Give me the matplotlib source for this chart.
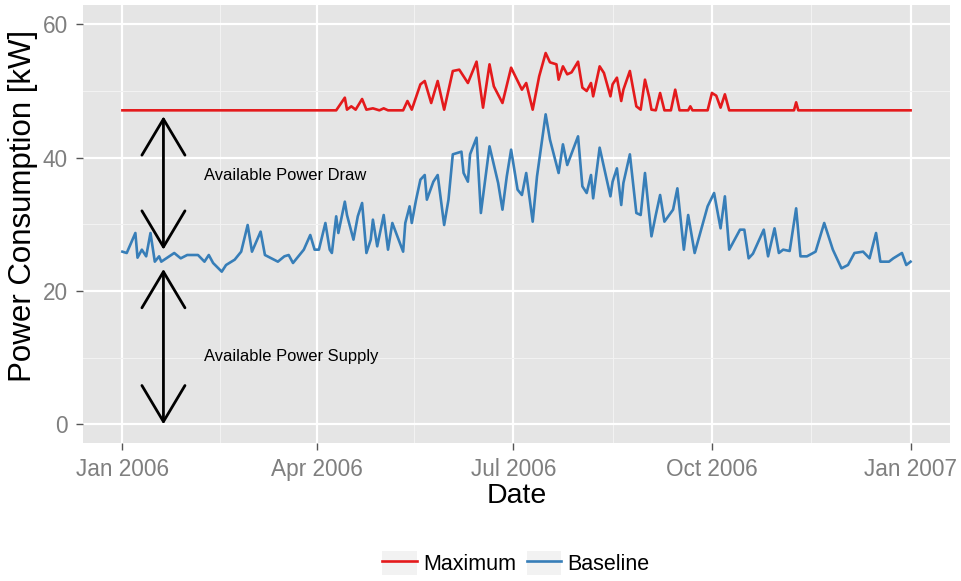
import numpy as np
import matplotlib
matplotlib.use("Agg")
import matplotlib.pyplot as plt
import matplotlib.dates as mdates
from matplotlib.lines import Line2D
from matplotlib.patches import Patch
from matplotlib.legend_handler import HandlerTuple

# days since 2006-01-01 and values
base_day = [0, 2, 6, 7, 9, 11, 13, 15, 17, 18, 24, 27, 30, 35, 38, 40, 42, 46, 48, 52,
            55, 58, 60, 64, 66, 69, 72, 75, 77, 79, 82, 84, 87, 89, 91, 94, 96, 97, 99, 100,
            103, 104, 107, 109, 111, 113, 115, 116, 118, 121, 123, 125, 130, 131, 133, 134,
            136, 138, 140, 141, 144, 146, 149, 151, 153, 157, 158, 160, 161, 164, 166, 170,
            174, 176, 178, 180, 183, 185, 187, 190, 192, 196, 198, 202, 204, 206, 211, 213,
            215, 217, 218, 221, 226, 227, 229, 231, 232, 235, 238, 240, 242, 245, 247, 249,
            251, 255, 257, 260, 262, 265, 269, 271, 274, 277, 279, 281, 286, 288, 290, 292,
            297, 299, 302, 304, 306, 309, 312, 314, 317, 321, 325, 329, 333, 336, 339, 343,
            346, 349, 351, 355, 357, 361, 363, 365]
base_val = [25.9, 25.7, 28.7, 25.0, 26.2, 25.2, 28.7, 24.4, 25.2, 24.4, 25.7, 24.9, 25.4,
            25.4, 24.4, 25.4, 24.2, 22.9, 23.9, 24.7, 25.9, 29.9, 25.9, 28.9, 25.4, 24.9,
            24.4, 25.2, 25.4, 24.2, 25.4, 26.2, 28.4, 26.2, 26.2, 30.2, 26.2, 25.7, 31.2,
            28.7, 33.4, 31.4, 27.7, 31.2, 33.2, 25.7, 27.7, 30.7, 26.7, 31.4, 26.2, 30.2,
            25.9, 30.2, 32.7, 30.2, 33.7, 36.7, 37.4, 33.7, 36.4, 37.4, 29.9, 33.7, 40.5,
            40.9, 37.7, 36.4, 40.5, 43.0, 31.7, 41.7, 36.2, 32.2, 37.2, 41.2, 35.2, 34.4,
            37.7, 30.4, 37.2, 46.5, 42.7, 37.7, 42.0, 38.9, 43.2, 35.7, 34.7, 37.4, 33.9,
            41.5, 34.2, 36.4, 38.4, 32.9, 36.2, 40.5, 31.7, 31.4, 37.7, 28.2, 31.4, 34.4,
            30.4, 32.2, 35.4, 26.2, 31.4, 25.7, 30.4, 32.7, 34.7, 29.4, 34.2, 26.2, 29.2,
            29.2, 24.9, 25.6, 29.2, 25.2, 29.4, 25.7, 26.2, 26.0, 32.4, 25.2, 25.2, 25.9,
            30.2, 26.2, 23.4, 23.9, 25.7, 25.9, 24.9, 28.7, 24.4, 24.4, 24.9, 25.7, 23.9,
            24.4]

max_day = [0, 99, 103, 104, 106, 108, 111, 113, 116, 119, 121, 123, 130, 132, 134, 138,
           140, 143, 146, 149, 153, 156, 160, 164, 167, 170, 172, 176, 180, 185, 187, 190,
           193, 196, 198, 201, 202, 204, 206, 208, 211, 213, 215, 217, 218, 221, 223, 226,
           227, 229, 231, 232, 235, 238, 240, 242, 244, 245, 247, 249, 251, 254, 256, 258,
           262, 263, 264, 271, 273, 275, 277, 279, 281, 311, 312, 313, 365]
max_val = [47.1, 47.1, 49.0, 47.2, 47.7, 47.2, 48.8, 47.2, 47.4, 47.1, 47.4, 47.1, 47.1,
           48.5, 47.2, 51.0, 51.5, 48.2, 51.5, 47.2, 53.0, 53.2, 51.2, 54.4, 47.5, 54.0,
           50.7, 48.2, 53.5, 50.2, 51.2, 47.2, 52.2, 55.7, 54.3, 54.0, 51.7, 53.7, 52.5,
           52.8, 54.4, 50.5, 50.0, 51.2, 49.2, 53.7, 52.7, 49.2, 51.0, 52.0, 48.5, 50.2,
           53.0, 47.7, 47.2, 51.7, 49.0, 47.2, 47.1, 49.7, 47.1, 47.1, 50.2, 47.1, 47.1,
           47.7, 47.1, 47.1, 49.7, 49.3, 47.5, 49.5, 47.1, 47.1, 48.3, 47.1, 47.1]

arrow_day = 19
draw_span = (46.2, 26.2)
supply_span = (23.3, 0.0)

t0 = np.datetime64("2006-01-01T00")
def to_date(d):
    hours = np.round(np.asarray(d, dtype=float) * 24).astype(int)
    return t0 + hours.astype("timedelta64[h]")

RED, BLUE = "#E41A1C", "#377EB8"
plt.rcParams["font.family"] = ["Liberation Sans", "DejaVu Sans"]

fig = plt.figure(figsize=(9.61, 5.81), dpi=100)
ax = fig.add_axes([83 / 961, 138 / 581, 867 / 961, 438 / 581])
ax.set_facecolor("#E5E5E5")
for s in ax.spines.values():
    s.set_visible(False)

ax.plot(to_date(max_day), max_val, color=RED, lw=1.9, solid_joinstyle="round", zorder=3)
ax.plot(to_date(base_day), base_val, color=BLUE, lw=1.9, solid_joinstyle="round", zorder=3)

ad = to_date(arrow_day)
for top, bot in (draw_span, supply_span):
    ax.annotate("", xy=(ad, top), xytext=(ad, bot),
                arrowprops=dict(arrowstyle="<->, head_length=2.6, head_width=1.55",
                                color="black", lw=2.0, shrinkA=0, shrinkB=0,
                                mutation_scale=10), zorder=4)
ax.text(to_date(38), 37.4, "Available Power Draw", fontsize=11.9, va="center", ha="left")
ax.text(to_date(38), 10.1, "Available Power Supply", fontsize=11.9, va="center", ha="left")

ax.set_xlim(to_date(-18.25), to_date(383.25))
ax.set_ylim(-2.8, 62.9)
majors = np.array(["2006-01-01", "2006-04-01", "2006-07-01", "2006-10-01", "2007-01-01"],
                  dtype="datetime64[D]")
minors = np.array(["2006-02-15", "2006-05-16", "2006-08-16", "2006-11-16"], dtype="datetime64[D]")
ax.set_xticks(majors)
ax.set_xticks(minors, minor=True)
ax.xaxis.set_major_formatter(mdates.DateFormatter("%b %Y"))
ax.set_yticks([0, 20, 40, 60])
ax.set_yticks([10, 30, 50], minor=True)
ax.grid(which="major", color="white", lw=1.6)
ax.grid(which="minor", color="#F2F2F2", lw=0.8)
ax.set_axisbelow(True)
ax.tick_params(which="major", length=5, width=1, color="#555555", labelcolor="#7F7F7F",
               labelsize=16.3, pad=6)
ax.tick_params(which="minor", length=0)
ax.set_xlabel("Date", fontsize=20.5)
ax.set_ylabel("Power Consumption [kW]", fontsize=22.5)
ax.xaxis.set_label_coords(0.5, -0.092)
ax.yaxis.set_label_coords(-0.052, 0.541)

key = dict(facecolor="#F2F2F2", edgecolor="none")
handles = [(Patch(**key), Line2D([], [], color=RED, lw=1.9)),
           (Patch(**key), Line2D([], [], color=BLUE, lw=1.9))]
fig.legend(handles, ["Maximum", "Baseline"], loc="center", bbox_to_anchor=(516 / 961, 18 / 581),
           ncol=2, frameon=False, fontsize=15.5, handlelength=1.6, handleheight=1.35,
           handletextpad=0.3, columnspacing=0.5, handler_map={tuple: HandlerTuple(ndivide=1)})

fig.savefig("out.png", dpi=100)
